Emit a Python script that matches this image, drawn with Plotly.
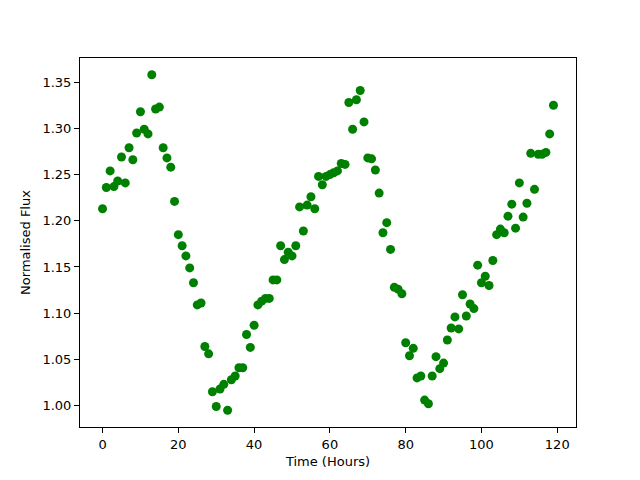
import plotly.graph_objects as go

time_hours = list(range(120))
flux = [
    1.213, 1.236, 1.254, 1.237, 1.243, 1.269, 1.241, 1.279, 1.266, 1.295,
    1.318, 1.299, 1.294, 1.358, 1.321, 1.323, 1.279, 1.268, 1.258, 1.221,
    1.185, 1.173, 1.162, 1.149, 1.133, 1.109, 1.111, 1.064, 1.056, 1.015,
    0.999, 1.018, 1.023, 0.995, 1.028, 1.032, 1.041, 1.041, 1.077, 1.063,
    1.087, 1.109, 1.113, 1.116, 1.116, 1.136, 1.136, 1.173, 1.158, 1.166,
    1.162, 1.173, 1.215, 1.189, 1.217, 1.226, 1.213, 1.248, 1.239, 1.248,
    1.250, 1.252, 1.254, 1.262, 1.261, 1.328, 1.299, 1.331, 1.341, 1.307,
    1.268, 1.267, 1.255, 1.230, 1.187, 1.198, 1.169, 1.128, 1.126, 1.121,
    1.068, 1.054, 1.062, 1.030, 1.032, 1.006, 1.002, 1.032, 1.053, 1.040,
    1.046, 1.071, 1.084, 1.096, 1.083, 1.120, 1.097, 1.110, 1.105, 1.152,
    1.133, 1.140, 1.130, 1.157, 1.185, 1.191, 1.187, 1.205, 1.218, 1.192,
    1.241, 1.204, 1.219, 1.273, 1.234, 1.272, 1.272, 1.274, 1.294, 1.325,
]
x_ticks = [0, 20, 40, 60, 80, 100, 120]
y_ticks = [1.00, 1.05, 1.10, 1.15, 1.20, 1.25, 1.30, 1.35]

fig = go.Figure(go.Scatter(
    x=time_hours, y=flux, mode="markers",
    marker=dict(color="#008000", size=9, line=dict(width=0)),
))

axis_common = dict(
    showgrid=False, zeroline=False, showline=True, linecolor="black",
    linewidth=1, mirror=True, ticks="outside", ticklen=5, tickwidth=1,
    tickcolor="black", tickfont=dict(size=13, color="black"),
)
xmin, xmax = min(time_hours), max(time_hours)
ymin, ymax = min(flux), max(flux)
xpad = 0.05 * (xmax - xmin)
ypad = 0.05 * (ymax - ymin)

fig.update_xaxes(**axis_common, range=[xmin - xpad, xmax + xpad],
                 tickvals=x_ticks, ticktext=[str(v) for v in x_ticks],
                 title=dict(text="Time (Hours)", font=dict(size=13, color="black"), standoff=6))
fig.update_yaxes(**axis_common, range=[ymin - ypad, ymax + ypad],
                 tickvals=y_ticks, ticktext=[f"{v:.2f}" for v in y_ticks],
                 title=dict(text="Normalised Flux", font=dict(size=13, color="black"), standoff=8))

fig.update_layout(
    width=640, height=480,
    margin=dict(l=72, r=72, t=50, b=61),
    paper_bgcolor="white", plot_bgcolor="white",
    font=dict(family="DejaVu Sans", color="black"),
    showlegend=False,
)
fig.write_html("out.html")
